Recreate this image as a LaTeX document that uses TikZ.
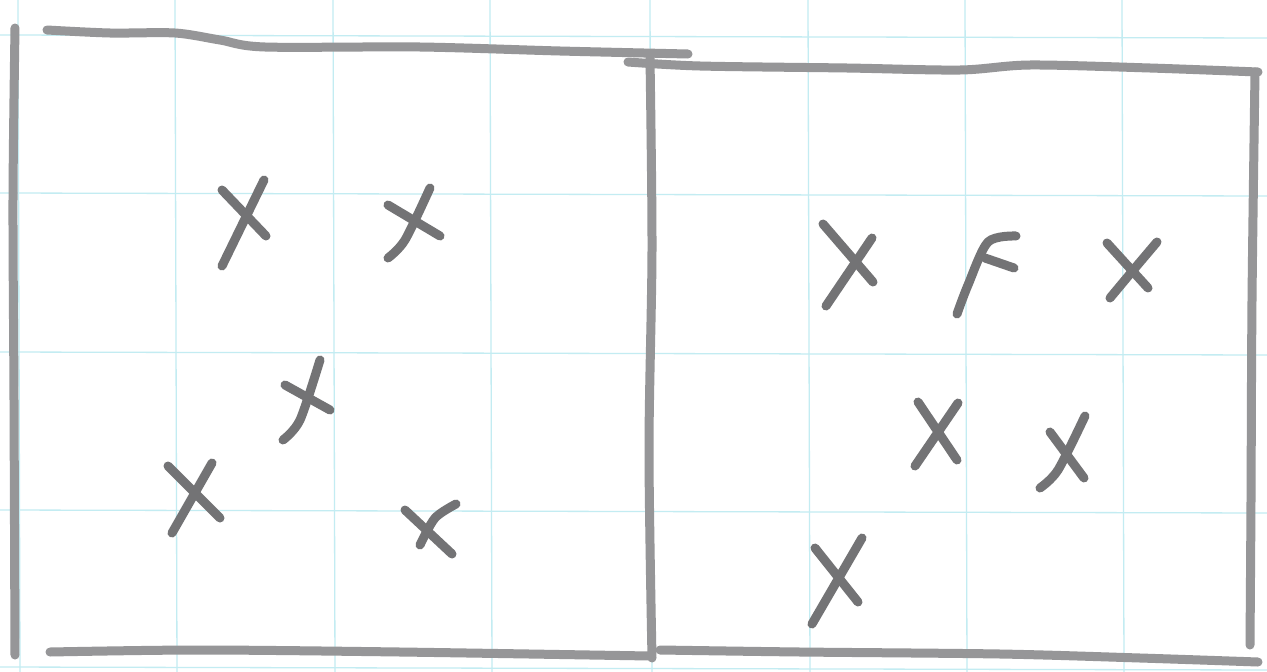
\documentclass[tikz,border=0pt]{standalone}
\definecolor{gridc}{RGB}{195,236,242}
\definecolor{pencil}{RGB}{150,150,152}
\definecolor{xpen}{RGB}{115,115,117}
\begin{document}
\begin{tikzpicture}[x=1pt,y=-1pt,
  gridline/.style={gridc, line width=1.3pt},
  border/.style={pencil, line width=9pt, line cap=round, line join=round},
  xstroke/.style={xpen, line width=9pt, line cap=round, line join=round}]
\useasboundingbox (0,0) rectangle (1267,672);
\fill[white] (0,0) rectangle (1267,672);
% grid paper
\foreach \gx in {18,175,333,490,650,808,965,1122}
  \draw[gridline] (\gx,0) -- (\gx+2,672);
\foreach \gy in {35,193,352,510,667}
  \draw[gridline] (0,\gy) -- (1267,\gy+3);
% left box
\draw[border] plot[smooth] coordinates {(15,28) (13,200) (14,400) (15,655)};
\draw[border] plot[smooth] coordinates {(47,30) (110,33) (175,33) (220,40) (265,47) (420,47) (560,51) (688,54)};
\draw[border] plot[smooth] coordinates {(50,652) (200,650) (400,652) (650,656)};
% middle divider
\draw[border] plot[smooth] coordinates {(650,58) (652,250) (649,450) (652,658)};
% right box
\draw[border] plot[smooth] coordinates {(628,62) (700,66) (847,68) (960,70) (1030,65) (1150,68) (1258,72)};
\draw[border] plot[smooth] coordinates {(1255,72) (1252,300) (1251,500) (1250,645)};
\draw[border] plot[smooth] coordinates {(660,650) (800,652) (1000,654) (1140,658) (1258,662)};
% left crosses
\draw[xstroke] (222,266) -- (264,180);
\draw[xstroke] (222,190) -- (266,236);
\draw[xstroke] plot[smooth] coordinates {(388,258) (405,240) (430,188)};
\draw[xstroke] (388,205) -- (440,236);
\draw[xstroke] plot[smooth] coordinates {(283,440) (300,420) (320,360)};
\draw[xstroke] (285,385) -- (330,410);
\draw[xstroke] (172,533) -- (212,463);
\draw[xstroke] (168,466) -- (220,518);
\draw[xstroke] (405,510) -- (452,554);
\draw[xstroke] plot[smooth] coordinates {(420,545) (435,518) (456,504)};
% right crosses
\draw[xstroke] (823,224) -- (873,282);
\draw[xstroke] (826,306) -- (872,238);
\draw[xstroke] plot[smooth] coordinates {(957,314) (968,285) (988,242) (1016,236)};
\draw[xstroke] (985,258) -- (1014,268);
\draw[xstroke] (1107,243) -- (1148,288);
\draw[xstroke] plot[smooth] coordinates {(1110,298) (1135,268) (1157,242)};
\draw[xstroke] (918,402) -- (957,460);
\draw[xstroke] (915,466) -- (958,403);
\draw[xstroke] (1050,432) -- (1084,478);
\draw[xstroke] plot[smooth] coordinates {(1040,488) (1058,470) (1085,416)};
\draw[xstroke] (815,548) -- (858,602);
\draw[xstroke] (812,624) -- (862,538);
\end{tikzpicture}
\end{document}
